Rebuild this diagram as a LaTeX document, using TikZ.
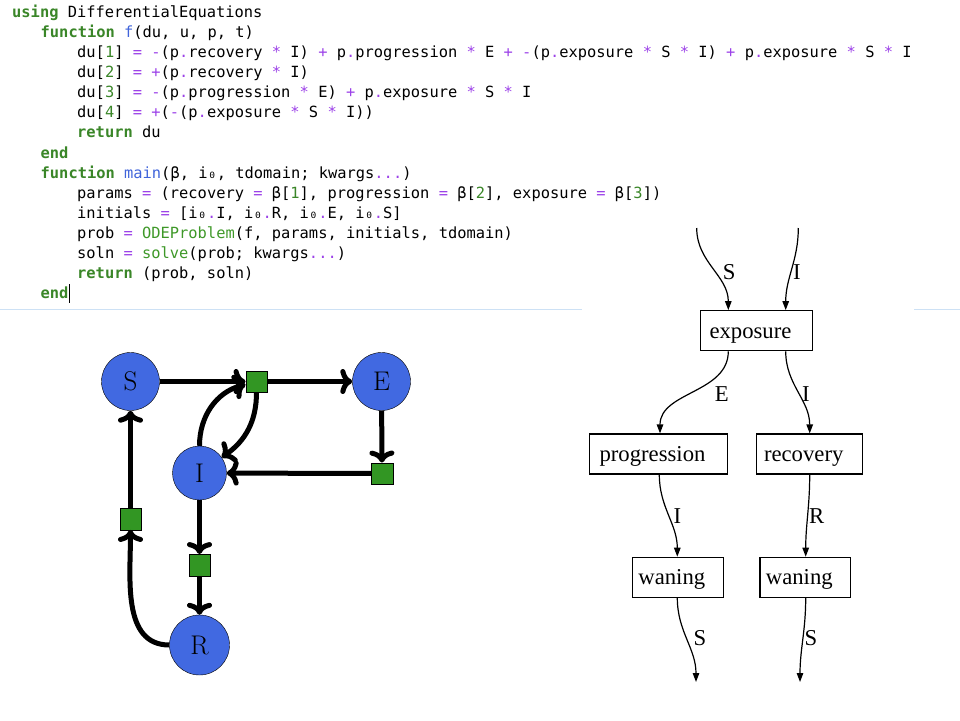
\documentclass[tikz,border=0pt]{standalone}
\usepackage{fontspec}
\usepackage{tikz}
\usetikzlibrary{arrows.meta}
\newfontfamily\codefont{DejaVu Sans Mono}
\newfontfamily\dotfont{Liberation Serif}
\definecolor{kwgreen}{RGB}{58,134,40}
\definecolor{callgreen}{RGB}{62,152,40}
\definecolor{fnblue}{RGB}{64,100,218}
\definecolor{oppurple}{RGB}{156,66,232}
\definecolor{sepblue}{RGB}{205,225,245}
\definecolor{stateblue}{RGB}{65,105,225}
\definecolor{trgreen}{RGB}{50,150,35}
\newcommand\kwd[1]{{\color{kwgreen}\bfseries #1}}
\newcommand\fnm[1]{\textcolor{fnblue}{#1}}
\newcommand\opr[1]{\textcolor{oppurple}{#1}}
\newcommand\nmb[1]{\textcolor{kwgreen}{#1}}
\newcommand\cll[1]{\textcolor{callgreen}{#1}}
\tikzset{
  codeline/.style={anchor=base west, inner sep=0pt, font=\codefont\fontsize{15.4}{20}\selectfont},
  state/.style={circle, draw, thin, fill=stateblue, minimum size=58pt, inner sep=0pt, font=\fontsize{27}{27}\selectfont},
  trans/.style={rectangle, draw, thin, fill=trgreen, minimum size=21.5pt, inner sep=0pt},
  flow/.style={-{Computer Modern Rightarrow[length=12pt, width=25pt]}, line width=5pt},
  box/.style={rectangle, draw, line width=1.2pt, minimum height=40pt, inner sep=0pt, text height=15.2pt, text depth=0pt,
    execute at begin node={\hspace*{-12pt}}, font=\dotfont\fontsize{22.7}{24}\selectfont},
  lbl/.style={inner sep=0pt, font=\dotfont\fontsize{22.7}{24}\selectfont},
  wire/.style={line width=1.2pt, -{Triangle[length=9pt,width=6.5pt]}},
}
\begin{document}
\begin{tikzpicture}[x=1pt, y=-1pt]
\useasboundingbox (0,0) rectangle (960,720);

% code
\node[codeline] (c1) at (12,17.3) {\kwd{using} DifferentialEquations};
\node[codeline] (c2) at (40.5,37.4) {\kwd{function} \fnm{f}(du, u, p, t)};
\node[codeline] (c3) at (77,57.5) {du[\nmb{1}] \opr{=} \opr{-}(p\opr{.}recovery \opr{*} I) \opr{+} p\opr{.}progression \opr{*} E \opr{+} \opr{-}(p\opr{.}exposure \opr{*} S \opr{*} I) \opr{+} p\opr{.}exposure \opr{*} S \opr{*} I};
\node[codeline] (c4) at (77,77.6) {du[\nmb{2}] \opr{=} \opr{+}(p\opr{.}recovery \opr{*} I)};
\node[codeline] (c5) at (77,97.7) {du[\nmb{3}] \opr{=} \opr{-}(p\opr{.}progression \opr{*} E) \opr{+} p\opr{.}exposure \opr{*} S \opr{*} I};
\node[codeline] (c6) at (77,117.8) {du[\nmb{4}] \opr{=} \opr{+}(\opr{-}(p\opr{.}exposure \opr{*} S \opr{*} I))};
\node[codeline] (c7) at (77,137.9) {\kwd{return} du};
\node[codeline] (c8) at (40.5,158) {\kwd{end}};
\node[codeline] (c9) at (40.5,178.1) {\kwd{function} \fnm{main}(β, i₀, tdomain; kwargs\opr{...})};
\node[codeline] (c10) at (77,198.2) {params \opr{=} (recovery \opr{=} β[\nmb{1}], progression \opr{=} β[\nmb{2}], exposure \opr{=} β[\nmb{3}])};
\node[codeline] (c11) at (77,218.3) {initials \opr{=} [i₀\opr{.}I, i₀\opr{.}R, i₀\opr{.}E, i₀\opr{.}S]};
\node[codeline] (c12) at (77,238.4) {prob \opr{=} \cll{ODEProblem}(f, params, initials, tdomain)};
\node[codeline] (c13) at (77,258.5) {soln \opr{=} \cll{solve}(prob; kwargs\opr{...})};
\node[codeline] (c14) at (77,278.6) {\kwd{return} (prob, soln)};
\node[codeline] (c15) at (40.5,298.7) {\kwd{end}};
\draw[line width=1.3pt] (69.5,284) -- (69.5,303);
\draw[sepblue, line width=1pt] (0,309) -- (582,309);
\draw[sepblue, line width=1pt] (914,309) -- (960,309);

% petri net
\node[state] (S) at (130.5,381.5) {S};
\node[state] (E) at (381.5,381.5) {E};
\node[state, minimum size=54pt] (I) at (199.5,473) {I};
\node[state, minimum size=60pt] (R) at (199.5,645) {R};
\node[trans] (tExpo) at (256.5,381.5) {};
\node[trans] (tProg) at (382,473.5) {};
\node[trans] (tReco) at (199.5,565) {};
\node[trans] (tWane) at (130.5,519) {};
\draw[flow] (S) -- (tExpo);
\draw[flow] (I) to[out=90, in=195] (tExpo);
\draw[flow] (tExpo) -- (E);
\draw[flow] (tExpo) to[out=-90, in=35] (I);
\draw[flow] (E) -- (tProg);
\draw[flow] (tProg) -- (I);
\draw[flow] (I) -- (tReco);
\draw[flow] (tReco) -- (R);
\draw[flow] (R) to[out=180, in=-90] (tWane);
\draw[flow] (tWane) -- (S);

% wiring diagram
\node[box, minimum width=111.6pt] (expo) at (756.5,330.7) {exposure};
\node[box, minimum width=138pt] (prog) at (658.5,454) {progression};
\node[box, minimum width=106pt] (reco) at (809.7,454) {recovery};
\node[box, minimum width=91pt] (wanI) at (677.8,577.3) {waning};
\node[box, minimum width=90.7pt] (wanR) at (805.3,577.3) {waning};
\coordinate (inS) at (696.7,228);
\coordinate (inI) at (798.3,228);
\coordinate (outI) at (696,682);
\coordinate (outR) at (800,682);
\draw[wire] (inS) to[out=-90, in=90] ([xshift=-28.2pt]expo.north);
\draw[wire] (inI) to[out=-90, in=90] ([xshift=29.2pt]expo.north);
\draw[wire] ([xshift=-28.2pt]expo.south) to[out=-90, in=90] ([xshift=1.5pt]prog.north);
\draw[wire] ([xshift=29.2pt]expo.south) to[out=-90, in=90] (reco.north);
\draw[wire] ([xshift=0.8pt]prog.south) to[out=-90, in=90] ([xshift=-0.5pt]wanI.north);
\draw[wire] (reco.south) to[out=-90, in=90] ([xshift=0.4pt]wanR.north);
\draw[wire] ([xshift=-0.5pt]wanI.south) to[out=-90, in=90] (outI);
\draw[wire] ([xshift=0.4pt]wanR.south) to[out=-90, in=90] (outR);
\node[lbl] (lS) at (729.3,271.7) {S};
\node[lbl] (lI) at (797,271.7) {I};
\node[lbl] (lE) at (721.7,394.3) {E};
\node[lbl] (lI2) at (806,394.3) {I};
\node[lbl] (lI3) at (677.3,516) {I};
\node[lbl] (lR) at (816.7,516) {R};
\node[lbl] (lS2) at (700,638.3) {S};
\node[lbl] (lS3) at (811,638.3) {S};
\end{tikzpicture}
\end{document}
